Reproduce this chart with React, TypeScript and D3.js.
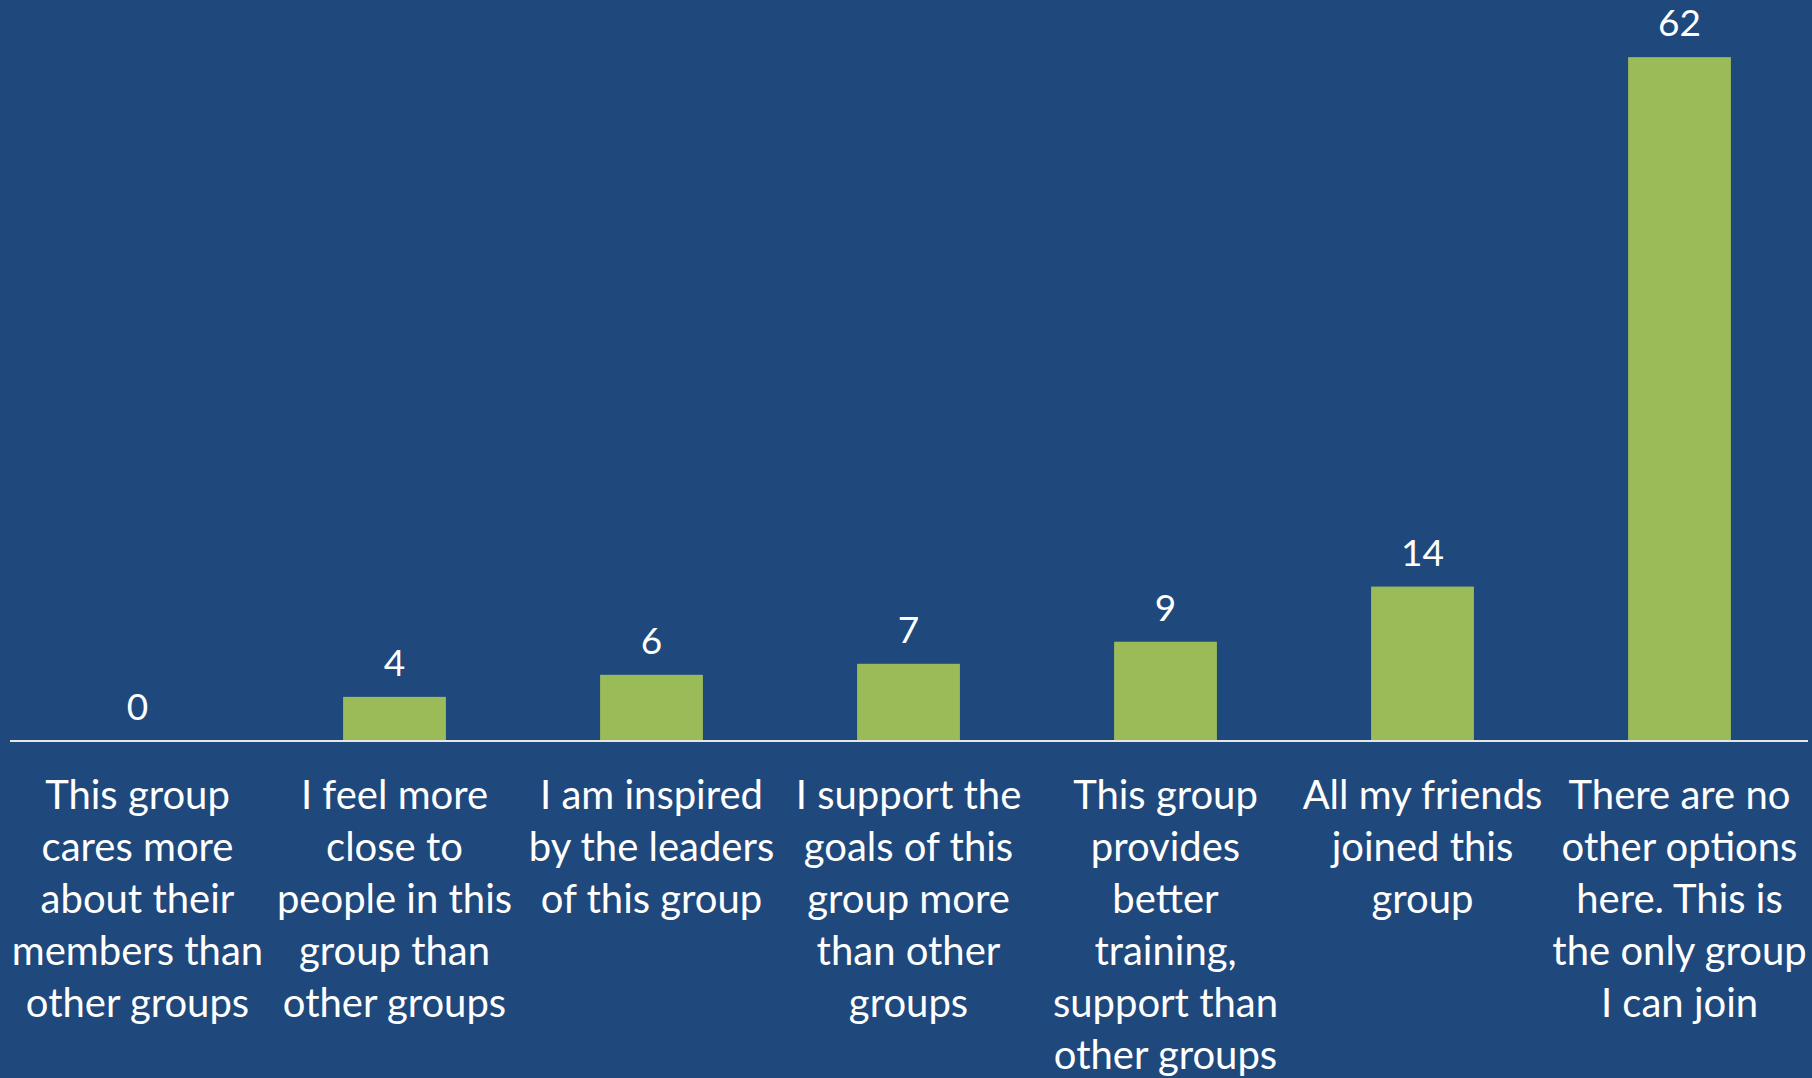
import React from "react";
import * as d3 from "d3";

const categories: string[][] = [
  ["This group", "cares more", "about their", "members than", "other groups"],
  ["I feel more", "close to", "people in this", "group than", "other groups"],
  ["I am inspired", "by the leaders", "of this group"],
  ["I support the", "goals of this", "group more", "than other", "groups"],
  ["This group", "provides", "better", "training,", "support than", "other groups"],
  ["All my friends", "joined this", "group"],
  ["There are no", "other options", "here. This is", "the only group", "I can join"],
];
const values: number[] = [0, 4, 6, 7, 9, 14, 62];

const W = 1812;
const H = 1078;
const baseY = 741;
const FONT = "Lato, 'Open Sans', sans-serif";

export default function App() {
  const idx = categories.map((_, i) => String(i));
  const x = d3.scaleBand<string>().domain(idx).range([9, 1808]).paddingInner(0.6).paddingOuter(0.3);
  const y = d3.scaleLinear().domain([0, 70]).range([baseY, baseY - 70 * 11.03]);
  return (
    <svg width={W} height={H} style={{ position: "absolute", left: 0, top: 0, display: "block" }}>
      <rect x={0} y={0} width={W} height={H} fill="#1F497D" />
      {values.map((v, i) => (
        <g key={i}>
          <rect x={x(String(i))} y={y(v)} width={x.bandwidth()} height={baseY - y(v)} fill="#9BBB59" />
          <text
            x={(x(String(i)) as number) + x.bandwidth() / 2}
            y={y(v) - 21}
            textAnchor="middle"
            fill="#FFFFFF"
            fontFamily={FONT}
            fontSize={37}
          >
            {v}
          </text>
          <text
            x={(x(String(i)) as number) + x.bandwidth() / 2}
            y={809}
            textAnchor="middle"
            fill="#FFFFFF"
            fontFamily={FONT}
            fontSize={40}
          >
            {categories[i].map((line, j) => (
              <tspan key={j} x={(x(String(i)) as number) + x.bandwidth() / 2} dy={j === 0 ? 0 : 52}>
                {line}
              </tspan>
            ))}
          </text>
        </g>
      ))}
      <line x1={10} x2={1808} y1={baseY} y2={baseY} stroke="#E6E6E6" strokeWidth={2} />
    </svg>
  );
}
